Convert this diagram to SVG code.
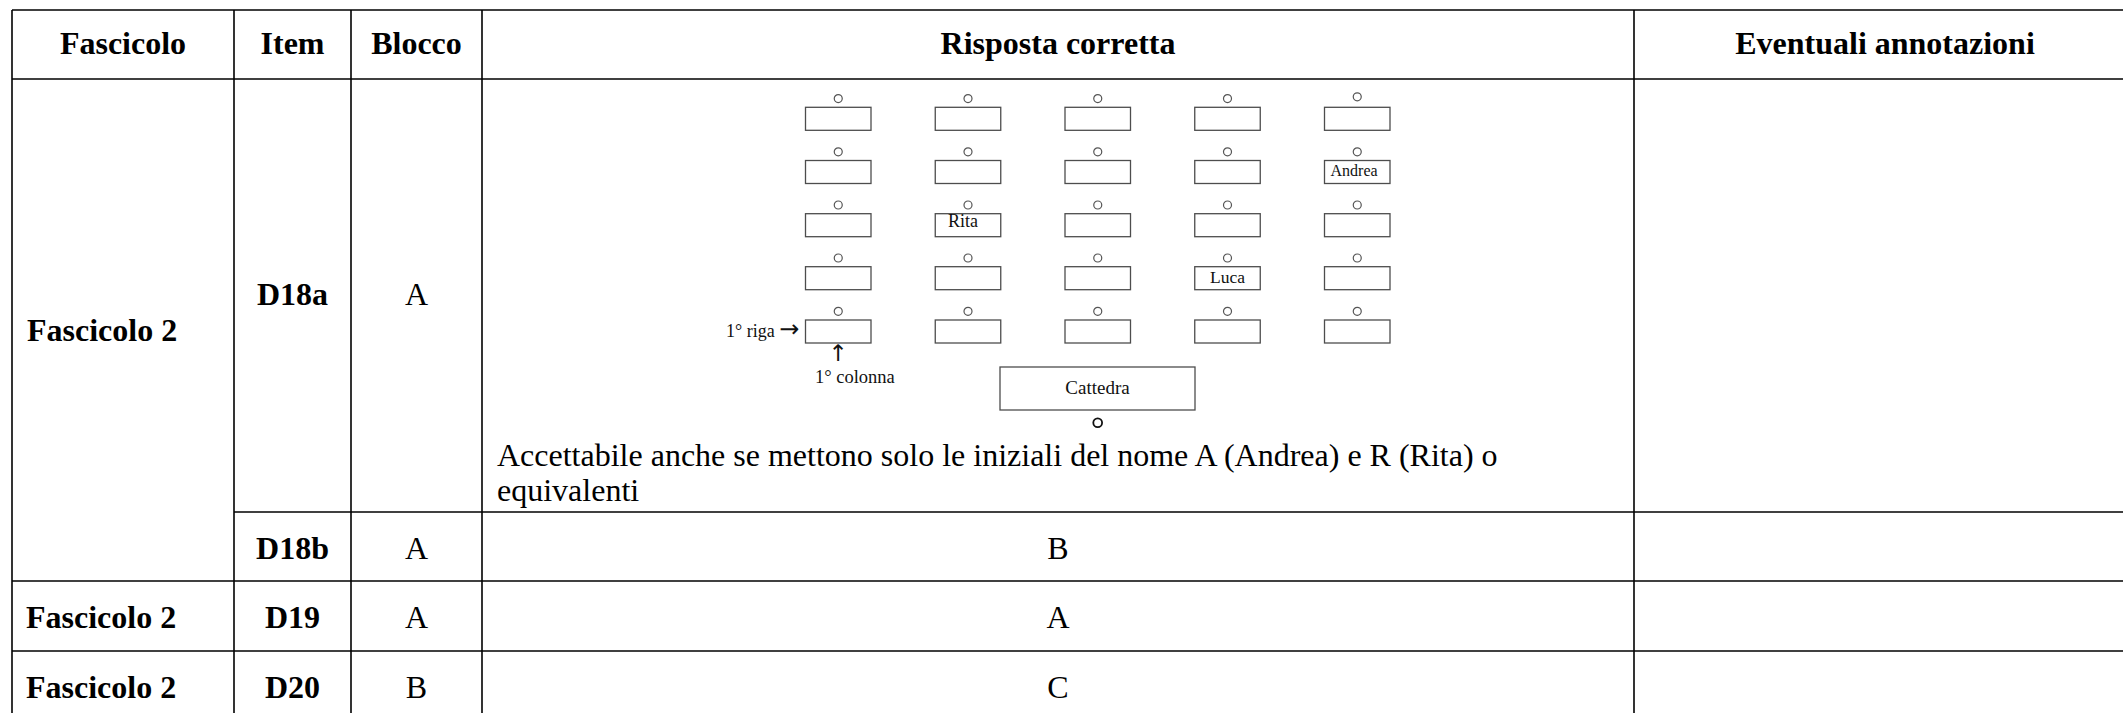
<svg xmlns="http://www.w3.org/2000/svg" width="2123" height="713" viewBox="0 0 2123 713">
<style>
  .bg { fill: #ffffff; }
  .grid line { stroke: #000000; stroke-width: 1.6; }
  .h { font-family: "Liberation Serif", "Times New Roman", serif; font-weight: bold; font-size: 32px; fill: #000; }
  .b { font-family: "Liberation Serif", "Times New Roman", serif; font-size: 32px; fill: #000; }
  .c { text-anchor: middle; }
  .desk { fill: #ffffff; stroke: #4d4d4d; stroke-width: 1.3; }
  .seat { fill: none; stroke: #555555; stroke-width: 1.2; }
  .s { font-family: "Liberation Serif", "Times New Roman", serif; fill: #111; }
  .arw { font-family: "DejaVu Sans", sans-serif; }
</style>
<defs>
  <g id="unit">
    <circle class="seat" cx="32.75" cy="-8.7" r="4"/>
    <rect class="desk" x="0" y="0" width="65.5" height="23"/>
  </g>
</defs>
<rect class="bg" x="0" y="0" width="2123" height="713"/>

<g id="grid" class="grid">
  <line x1="12" y1="10" x2="2123" y2="10"/>
  <line x1="12" y1="79" x2="2123" y2="79"/>
  <line x1="234" y1="512" x2="2123" y2="512"/>
  <line x1="12" y1="581" x2="2123" y2="581"/>
  <line x1="12" y1="651" x2="2123" y2="651"/>
  <line x1="12" y1="10" x2="12" y2="713"/>
  <line x1="234" y1="10" x2="234" y2="713"/>
  <line x1="351" y1="10" x2="351" y2="713"/>
  <line x1="482" y1="10" x2="482" y2="713"/>
  <line x1="1634" y1="10" x2="1634" y2="713"/>
</g>

<g id="header">
  <text class="h c" x="123" y="54">Fascicolo</text>
  <text class="h c" x="292.5" y="54">Item</text>
  <text class="h c" x="416.5" y="54">Blocco</text>
  <text class="h c" x="1058" y="54">Risposta corretta</text>
  <text class="h c" x="1885" y="54">Eventuali annotazioni</text>
</g>

<g id="row-d18a">
  <text class="h" x="27" y="341">Fascicolo 2</text>
  <text class="h c" x="292.5" y="305">D18a</text>
  <text class="b c" x="416.5" y="305">A</text>
</g>

<g id="seating-chart">
  <use href="#unit" x="805.5" y="107.3"/>
  <use href="#unit" x="935.25" y="107.3"/>
  <use href="#unit" x="1065" y="107.3"/>
  <use href="#unit" x="1194.75" y="107.3"/>
  <rect class="desk" x="1324.5" y="107.3" width="65.5" height="23"/>
  <circle class="seat" cx="1357.25" cy="96.8" r="4"/>

  <use href="#unit" x="805.5" y="160.5"/>
  <use href="#unit" x="935.25" y="160.5"/>
  <use href="#unit" x="1065" y="160.5"/>
  <use href="#unit" x="1194.75" y="160.5"/>
  <use href="#unit" x="1324.5" y="160.5"/>

  <use href="#unit" x="805.5" y="213.7"/>
  <use href="#unit" x="935.25" y="213.7"/>
  <use href="#unit" x="1065" y="213.7"/>
  <use href="#unit" x="1194.75" y="213.7"/>
  <use href="#unit" x="1324.5" y="213.7"/>

  <use href="#unit" x="805.5" y="266.7"/>
  <use href="#unit" x="935.25" y="266.7"/>
  <use href="#unit" x="1065" y="266.7"/>
  <use href="#unit" x="1194.75" y="266.7"/>
  <use href="#unit" x="1324.5" y="266.7"/>

  <use href="#unit" x="805.5" y="320"/>
  <use href="#unit" x="935.25" y="320"/>
  <use href="#unit" x="1065" y="320"/>
  <use href="#unit" x="1194.75" y="320"/>
  <use href="#unit" x="1324.5" y="320"/>

  <text class="s" x="1330.5" y="175.7" font-size="16">Andrea</text>
  <text class="s" x="948" y="227" font-size="18">Rita</text>
  <text class="s" x="1210" y="283.3" font-size="17.5">Luca</text>

  <text class="s" x="726" y="337.3" font-size="18">1° riga <tspan class="arw" font-size="24" dy="-0.5">→</tspan></text>
  <text class="s c arw" x="838" y="361" font-size="23">↑</text>
  <text class="s" x="815" y="383.3" font-size="18.5">1° colonna</text>

  <rect class="desk" x="1000" y="367" width="195" height="43"/>
  <text class="s c" x="1097.5" y="394" font-size="19">Cattedra</text>
  <circle cx="1097.7" cy="422.7" r="4.4" fill="none" stroke="#111" stroke-width="1.8"/>

  <text class="b" x="497" y="466">Accettabile anche se mettono solo le iniziali del nome A (Andrea) e R (Rita) o</text>
  <text class="b" x="497" y="501">equivalenti</text>
</g>

<g id="row-d18b">
  <text class="h c" x="292.5" y="559">D18b</text>
  <text class="b c" x="416.5" y="559">A</text>
  <text class="b c" x="1058" y="559">B</text>
</g>

<g id="row-d19">
  <text class="h" x="26" y="628">Fascicolo 2</text>
  <text class="h c" x="292.5" y="628">D19</text>
  <text class="b c" x="416.5" y="628">A</text>
  <text class="b c" x="1058" y="628">A</text>
</g>

<g id="row-d20">
  <text class="h" x="26" y="698">Fascicolo 2</text>
  <text class="h c" x="292.5" y="698">D20</text>
  <text class="b c" x="416.5" y="698">B</text>
  <text class="b c" x="1058" y="698">C</text>
</g>
</svg>
